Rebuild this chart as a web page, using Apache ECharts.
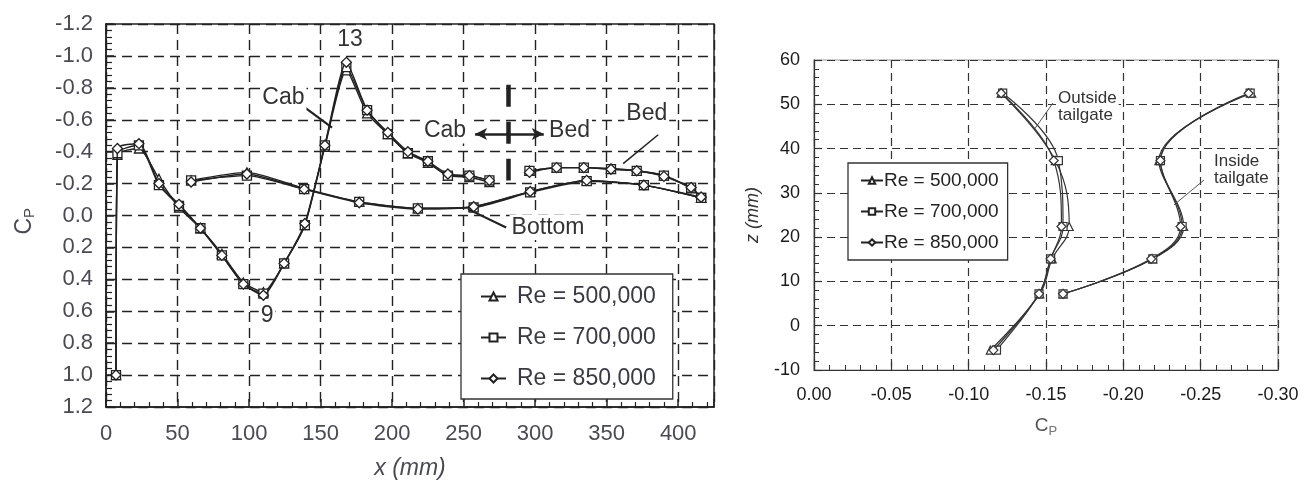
<!DOCTYPE html>
<html>
<head>
<meta charset="utf-8">
<script src="https://cdn.jsdelivr.net/npm/echarts@6/dist/echarts.min.js"></script>
<style>
html,body{margin:0;padding:0;background:#fff;}
#chart{width:1312px;height:485px;}
</style>
</head>
<body>
<div id="chart"></div>
<script>
// ---------------- DATA ----------------
const reNames = ['Re = 500,000', 'Re = 700,000', 'Re = 850,000'];

// Left chart: Cp along x (mm)
const cabX = [7, 8, 23, 37, 51, 66, 81, 96, 110, 124.5, 139, 153, 168, 182.5, 197, 211, 225, 239, 254, 268];
const cab500 = [1.00, -0.38, -0.42, -0.23, -0.05, 0.08, 0.24, 0.42, 0.48, 0.30, 0.06, -0.43, -0.91, -0.64, -0.51, -0.39, -0.33, -0.25, -0.24, -0.21];
const cab700 = [1.00, -0.39, -0.44, -0.19, -0.06, 0.08, 0.25, 0.43, 0.49, 0.30, 0.06, -0.44, -0.93, -0.66, -0.51, -0.39, -0.34, -0.25, -0.25, -0.22];
const cab850 = [1.00, -0.42, -0.45, -0.20, -0.07, 0.08, 0.25, 0.43, 0.50, 0.30, 0.05, -0.44, -0.96, -0.66, -0.52, -0.40, -0.34, -0.26, -0.25, -0.22];

const bottomX = [59.5, 98.5, 138.5, 177, 218, 257, 296.5, 336, 376, 416];
const bottom500 = [-0.22, -0.27, -0.17, -0.085, -0.045, -0.055, -0.15, -0.22, -0.19, -0.11];
const bottom700 = [-0.22, -0.25, -0.165, -0.085, -0.045, -0.05, -0.145, -0.215, -0.19, -0.11];
const bottom850 = [-0.21, -0.26, -0.165, -0.08, -0.04, -0.055, -0.15, -0.22, -0.19, -0.115];

const bedX = [296, 315, 334, 353, 371, 390, 409, 416];
const bed500 = [-0.28, -0.30, -0.30, -0.295, -0.28, -0.25, -0.17, -0.11];
const bed700 = [-0.28, -0.30, -0.30, -0.29, -0.28, -0.25, -0.175, -0.11];
const bed850 = [-0.27, -0.30, -0.30, -0.29, -0.28, -0.245, -0.175, -0.115];

// Right chart: Cp (x) vs z (mm)
const outsideZ = [52.5, 37.3, 22.4, 15.1, 7.2, -5.5];
const outside500 = [-0.121, -0.156, -0.165, -0.154, -0.146, -0.114];
const outside700 = [-0.122, -0.158, -0.161, -0.153, -0.1455, -0.118];
const outside850 = [-0.121, -0.155, -0.160, -0.153, -0.1455, -0.116];

const insideZ = [52.5, 37.3, 22.4, 15.1, 7.2];
const inside500 = [-0.283, -0.223, -0.239, -0.219, -0.161];
const inside700 = [-0.282, -0.224, -0.238, -0.219, -0.161];
const inside850 = [-0.281, -0.224, -0.237, -0.218, -0.161];

// ---------------- BUILD ----------------
const FONT = "'Liberation Sans', Arial, sans-serif";
const symbols = ['triangle', 'rect', 'diamond'];
const symSizes = [9, 9, 10];

function pairs(xs, ys) { return xs.map((x, i) => [x, ys[i]]); }
function fmt(d) { return v => (Math.abs(v) < 1e-9 ? 0 : v).toFixed(d); }

const leftSegs = [
  [cabX, [cab500, cab700, cab850]],
  [bottomX, [bottom500, bottom700, bottom850]],
  [bedX, [bed500, bed700, bed850]]
];
const rightSegs = [
  [outsideZ, [outside500, outside700, outside850]],
  [insideZ, [inside500, inside700, inside850]]
];

const series = [];
for (let r = 0; r < 3; r++) {
  leftSegs.forEach(([xs, ys]) => {
    series.push({
      type: 'line', name: reNames[r], xAxisIndex: 0, yAxisIndex: 0,
      data: pairs(xs, ys[r]), smooth: 0.2,
      symbol: symbols[r], symbolSize: symSizes[r],
      lineStyle: { color: '#222', width: 1.4 },
      itemStyle: { color: '#fff', borderColor: '#222', borderWidth: 1.3 },
      z: 3 + r
    });
  });
  rightSegs.forEach(([zs, cps]) => {
    series.push({
      type: 'line', name: reNames[r], xAxisIndex: 1, yAxisIndex: 1,
      data: pairs(cps[r], zs), smooth: 0.4,
      symbol: symbols[r], symbolSize: symSizes[r] - 1,
      lineStyle: { color: '#333', width: 1.2 },
      itemStyle: { color: '#fff', borderColor: '#333', borderWidth: 1.2 },
      z: 3 + r
    });
  });
}

const annoLabel = (txt, size, extra) => Object.assign({
  show: true, formatter: txt, fontSize: size, fontFamily: FONT, color: '#333',
  backgroundColor: '#fff', padding: [1, 2]
}, extra || {});
const solid = { color: '#222', width: 1.5, type: 'solid' };

// annotation carrier for left chart
series.push({
  type: 'scatter', xAxisIndex: 0, yAxisIndex: 0, data: [], silent: true,
  markPoint: {
    symbol: 'circle', symbolSize: 0, silent: true, animation: false,
    data: [
      { coord: [170.6, -1.10], label: annoLabel('13', 23, { backgroundColor: 'transparent' }) },
      { coord: [112.6, 0.625], label: annoLabel('9', 23) },
      { coord: [124, -0.74], label: annoLabel('Cab', 23) },
      { coord: [237, -0.53], label: annoLabel('Cab', 23) },
      { coord: [324, -0.53], label: annoLabel('Bed', 23) },
      { coord: [378, -0.64], label: annoLabel('Bed', 23) },
      { coord: [309, 0.075], label: annoLabel('Bottom', 23) }
    ]
  },
  markLine: {
    silent: true, animation: false, symbol: ['none', 'none'], label: { show: false },
    lineStyle: solid,
    data: [
      [{ coord: [137, -0.69], lineStyle: { color: '#222', width: 2.2, type: 'solid' } }, { coord: [158, -0.55] }],
      [{ coord: [386, -0.506], lineStyle: solid }, { coord: [361.5, -0.325] }],
      [{ coord: [279.7, 0.075], lineStyle: { color: '#222', width: 2.2, type: 'solid' } }, { coord: [253, -0.04] }],
      [{ coord: [281, -0.819], lineStyle: { color: '#222', width: 4.5, type: [22, 15] } }, { coord: [281, -0.219] }],
      [{ coord: [281, -0.51], lineStyle: { color: '#222', width: 2.5, type: 'solid' } },
       { coord: [258, -0.51], symbol: 'arrow', symbolSize: [9, 12] }],
      [{ coord: [281, -0.51], lineStyle: { color: '#222', width: 2.5, type: 'solid' } },
       { coord: [306, -0.51], symbol: 'arrow', symbolSize: [9, 12] }]
    ]
  }
});

// annotation carrier for right chart
series.push({
  type: 'scatter', xAxisIndex: 1, yAxisIndex: 1, data: [], silent: true,
  markPoint: {
    symbol: 'circle', symbolSize: 0, silent: true, animation: false,
    data: [
      { coord: [-0.1565, 49.5], label: annoLabel('Outside\ntailgate', 17, { position: 'right', distance: 0, lineHeight: 17, align: 'left', padding: [0, 2] }) },
      { coord: [-0.2573, 35.2], label: annoLabel('Inside\ntailgate', 17, { position: 'right', distance: 0, lineHeight: 17, align: 'left', padding: [0, 2] }) }
    ]
  },
  markLine: {
    silent: true, animation: false, symbol: ['none', 'none'], label: { show: false },
    lineStyle: { color: '#555', width: 1, type: 'solid' },
    data: [
      [{ coord: [-0.1545, 50.3] }, { coord: [-0.143, 44.6] }],
      [{ coord: [-0.2522, 32.9] }, { coord: [-0.2328, 27.3] }]
    ]
  }
});

const leftLabel = { fontSize: 22, fontFamily: FONT, color: '#4a4a55' };
const rightLabel = { fontSize: 18, fontFamily: FONT, color: '#1a1a1a' };

const option = {
  animation: false,
  backgroundColor: '#fff',
  grid: [
    { left: 106, top: 24, width: 608, height: 386, show: true, borderColor: '#222', borderWidth: 1.5, backgroundColor: 'transparent' },
    { left: 814, top: 60, width: 464, height: 310, show: true, borderColor: '#999', borderWidth: 1.2, backgroundColor: 'transparent' }
  ],
  graphic: [
    {
      type: 'group', x: 25, y: 218, rotation: Math.PI / 2, silent: true,
      children: [
        { type: 'text', x: 0, y: 0, style: { text: 'C', fontSize: 23, fontFamily: FONT, fill: '#4a4a55', align: 'right', verticalAlign: 'middle' } },
        { type: 'text', x: 0, y: 5, style: { text: 'P', fontSize: 15, fontFamily: FONT, fill: '#4a4a55', align: 'left', verticalAlign: 'middle' } }
      ]
    }
  ],
  xAxis: [
    {
      type: 'value', gridIndex: 0, min: 0, max: 425, interval: 50,
      name: 'x (mm)', nameLocation: 'middle', nameGap: 50,
      nameTextStyle: { fontSize: 23, fontStyle: 'italic', fontFamily: FONT, color: '#4a4a55' },
      axisLine: { onZero: false, lineStyle: { color: '#222', width: 1.5 } },
      axisTick: { inside: true, length: 8, lineStyle: { color: '#222', width: 1.5 } },
      minorTick: { show: true, splitNumber: 5, length: 5, lineStyle: { color: '#222', width: 1.2 } },
      axisLabel: Object.assign({ margin: 16, showMaxLabel: false }, leftLabel),
      splitLine: { show: true, lineStyle: { color: '#222', width: 1.4, type: [10, 6] } }
    },
    {
      type: 'value', gridIndex: 1, min: -0.3, max: 0, interval: 0.05, inverse: true,
      name: '{c|C}{p|P}', nameLocation: 'middle', nameGap: 44,
      nameTextStyle: { fontFamily: FONT, color: '#555', rich: {
        c: { fontSize: 19, fontFamily: FONT, color: '#555', lineHeight: 24 },
        p: { fontSize: 13, fontFamily: FONT, color: '#777', lineHeight: 24, verticalAlign: 'bottom', padding: [10, 0, 0, 0] } } },
      axisLine: { onZero: false, lineStyle: { color: '#333', width: 1.2 } },
      axisTick: { inside: true, length: 8, lineStyle: { color: '#333', width: 1.2 } },
      minorTick: { show: true, splitNumber: 5, length: 5, lineStyle: { color: '#333', width: 1 } },
      axisLabel: Object.assign({ margin: 16, formatter: fmt(2) }, rightLabel),
      splitLine: { show: true, lineStyle: { color: '#333', width: 1.2, type: [8, 5] } }
    }
  ],
  yAxis: [
    {
      type: 'value', gridIndex: 0, min: -1.2, max: 1.2, interval: 0.2, inverse: true,
      axisLine: { onZero: false, lineStyle: { color: '#222', width: 1.5 } },
      axisTick: { inside: true, length: 8, lineStyle: { color: '#222', width: 1.5 } },
      minorTick: { show: true, splitNumber: 5, length: 6, lineStyle: { color: '#222', width: 1.2 } },
      axisLabel: Object.assign({ margin: 13, formatter: fmt(1) }, leftLabel),
      splitLine: { show: true, lineStyle: { color: '#222', width: 1.4, type: [10, 6] } }
    },
    {
      type: 'value', gridIndex: 1, min: -10, max: 60, interval: 10,
      name: 'z (mm)', nameLocation: 'middle', nameGap: 52, nameRotate: 90,
      nameTextStyle: { fontSize: 18, fontStyle: 'italic', fontFamily: FONT, color: '#333' },
      axisLine: { onZero: false, lineStyle: { color: '#333', width: 1.2 } },
      axisTick: { inside: true, length: 8, lineStyle: { color: '#333', width: 1.2 } },
      minorTick: { show: true, splitNumber: 5, length: 5, lineStyle: { color: '#333', width: 1 } },
      axisLabel: Object.assign({ margin: 14 }, rightLabel),
      splitLine: { show: true, lineStyle: { color: '#333', width: 1.2, type: [8, 5] } }
    }
  ],
  legend: [
    {
      data: reNames, orient: 'vertical', left: 461, top: 274,
      padding: [11, 17, 9, 19], itemGap: 18, itemWidth: 25, itemHeight: 10,
      backgroundColor: '#fff', borderColor: '#333', borderWidth: 1.3,
      selectedMode: false,
      textStyle: { fontSize: 23, lineHeight: 23, fontFamily: FONT, color: '#3a3a44', padding: [0, 0, 0, 6] }
    },
    {
      data: reNames, orient: 'vertical', left: 848, top: 163,
      padding: [8, 9, 8, 12], itemGap: 12, itemWidth: 22, itemHeight: 8,
      backgroundColor: '#fff', borderColor: '#333', borderWidth: 1.3,
      selectedMode: false,
      textStyle: { fontSize: 19, lineHeight: 19, fontFamily: FONT, color: '#222', padding: [0, 0, 0, -4] }
    }
  ],
  series: series
};

const chart = echarts.init(document.getElementById('chart'), null, { renderer: 'canvas' });
chart.setOption(option);
</script>
</body>
</html>
